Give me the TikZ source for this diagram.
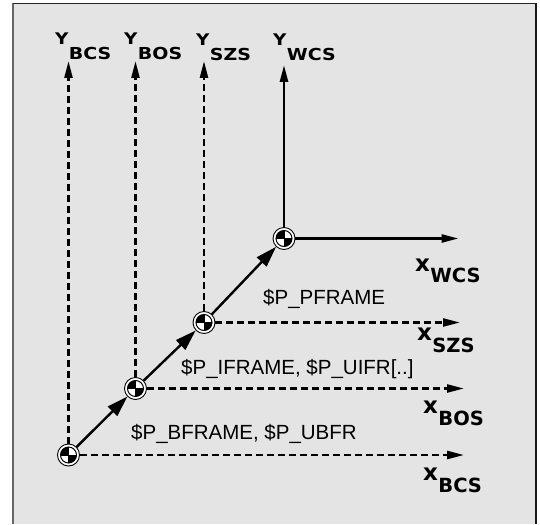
\documentclass[tikz,border=0pt]{standalone}
\usepackage{fontspec}
\setmainfont{Liberation Sans}
\newfontfamily\labfont{DejaVu Sans}
\newfontfamily\ylabfont[FakeStretch=1.15]{DejaVu Sans}
\usetikzlibrary{arrows.meta,positioning}

\definecolor{panel}{HTML}{E4E4E4}

\tikzset{
  orig/.style={circle, draw, line width=0.9pt, fill=white, minimum size=22pt, inner sep=0pt,
    path picture={
      \fill[black] (path picture bounding box.center) -- ++(180:8pt) arc[start angle=180, end angle=90, radius=8pt] -- cycle;
      \fill[black] (path picture bounding box.center) -- ++(0:8pt) arc[start angle=0, end angle=-90, radius=8pt] -- cycle;
      \draw[black, line width=1pt] (path picture bounding box.center) circle[radius=8pt];
      \draw[black, line width=0.7pt] (path picture bounding box.center) ++(-8pt,0) -- ++(16pt,0);
      \draw[black, line width=0.7pt] (path picture bounding box.center) ++(0,-8pt) -- ++(0,16pt);
    }},
  dashax/.style={line width=2.4pt, dash pattern=on 7pt off 4pt, -{Triangle[length=17pt,width=8pt]}},
  solidax/.style={line width=2.6pt, -{Triangle[length=17pt,width=8pt]}},
  trafo/.style={line width=2.4pt, -{Triangle[length=21pt,width=13pt]}},
  ymain/.style={font=\fontsize{16}{16}\selectfont\ylabfont\bfseries, anchor=base west, inner sep=0pt},
  ysub/.style={font=\fontsize{16.5}{16.5}\selectfont\ylabfont\bfseries, anchor=base west, inner sep=0pt},
  xmain/.style={font=\fontsize{23}{23}\selectfont\labfont\bfseries, anchor=base west, inner sep=0pt},
  xsub/.style={font=\fontsize{19.5}{19.5}\selectfont\labfont\bfseries, anchor=base west, inner sep=0pt},
  frm/.style={font=\fontsize{20.5}{20.5}\selectfont, anchor=base west, inner sep=0pt}
}

\begin{document}
\begin{tikzpicture}[x=1pt,y=-1pt]
\useasboundingbox (0,0) rectangle (540,524);
\fill[panel] (13,3.5) rectangle (536,524);
\draw[black!60, line width=1.5pt] (13,524) -- (13,3.5);
\draw[black!85, line width=1.5pt] (13,3.5) -- (536,3.5);
\draw[black!90, line width=2pt] (536,3.5) -- (536,524);

% origins
\node[orig] (bcs) at (68.5,455) {};
\node[orig] (bos) at (135.5,388.5) {};
\node[orig] (szs) at (204,322.5) {};
\node[orig] (wcs) at (284,238.5) {};

% axis tips
\coordinate (ybcs) at (68.5,61);
\coordinate (ybos) at (135.5,61);
\coordinate (yszs) at (204,61);
\coordinate (ywcs) at (284,65);
\coordinate (xbcs) at (464,455);
\coordinate (xbos) at (464,388.5);
\coordinate (xszs) at (460,322.5);
\coordinate (xwcs) at (458.5,238.5);

\draw[dashax] (bcs) -- (ybcs);
\draw[dashax] (bos) -- (ybos);
\draw[dashax] (szs) -- (yszs);
\draw[solidax] (wcs) -- (ywcs);
\draw[dashax] (bcs) -- (xbcs);
\draw[dashax] (bos) -- (xbos);
\draw[dashax] (szs) -- (xszs);
\draw[solidax] (wcs) -- (xwcs);

\draw[trafo] (bcs) -- (bos);
\draw[trafo] (bos) -- (szs);
\draw[trafo] (szs) -- (wcs);

% axis labels
\node[ymain] (ly1) at (55,45) {Y};
\node[ysub, below right=15pt and 0pt of ly1.base east, anchor=base west] (ly1s) {BCS};
\node[ymain] (ly2) at (124,45) {Y};
\node[ysub, below right=15pt and 0pt of ly2.base east, anchor=base west] (ly2s) {BOS};
\node[ymain] (ly3) at (196,46) {Y};
\node[ysub, below right=15pt and 0pt of ly3.base east, anchor=base west] (ly3s) {SZS};
\node[ymain] (ly4) at (273,46) {Y};
\node[ysub, below right=15pt and 0pt of ly4.base east, anchor=base west] (ly4s) {WCS};

\node[xmain] (lx4) at (415,271) {x};
\node[xsub, below right=11pt and 0pt of lx4.base east, anchor=base west] (lx4s) {WCS};
\node[xmain] (lx3) at (417,340) {x};
\node[xsub, below right=12pt and 0pt of lx3.base east, anchor=base west] (lx3s) {SZS};
\node[xmain] (lx2) at (423,413) {x};
\node[xsub, below right=12pt and 0pt of lx2.base east, anchor=base west] (lx2s) {BOS};
\node[xmain] (lx1) at (423,480) {x};
\node[xsub, below right=12pt and 0pt of lx1.base east, anchor=base west] (lx1s) {BCS};

% frame names
\node[frm] (pfr) at (263,304) {\$P\_PFRAME};
\node[frm] (ifr) at (181,374) {\$P\_IFRAME, \$P\_UIFR[..]};
\node[frm] (bfr) at (131,439) {\$P\_BFRAME, \$P\_UBFR};
\end{tikzpicture}
\end{document}
